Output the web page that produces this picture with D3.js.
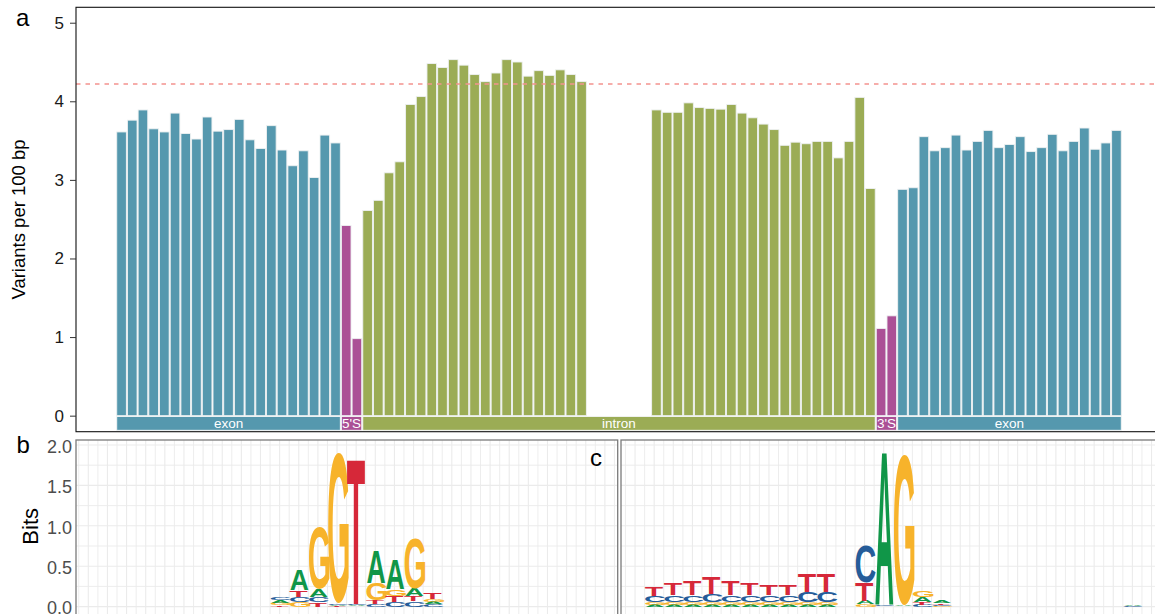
<!DOCTYPE html>
<html>
<head>
<meta charset="utf-8">
<script src="https://cdn.jsdelivr.net/npm/d3@7"></script>
<style>
  html, body { margin: 0; padding: 0; background: #fff; }
  svg { display: block; }
  text { font-family: "Liberation Sans", Arial, Helvetica, sans-serif; }
</style>
</head>
<body>
<svg id="fig" width="1155" height="614"></svg>
<script>
// ---- variant density (variants per 100 bp) along the exon / splice site / intron profile ----
const exonUpstream = [3.61, 3.76, 3.89, 3.65, 3.61, 3.85, 3.59, 3.52, 3.80, 3.62, 3.64, 3.77, 3.51, 3.40, 3.69, 3.38, 3.18, 3.37, 3.03, 3.57, 3.47];
const donorSite = [2.42, 0.98];
const intronDonorSide = [2.61, 2.74, 3.09, 3.23, 3.96, 4.06, 4.48, 4.43, 4.53, 4.46, 4.34, 4.25, 4.36, 4.53, 4.50, 4.32, 4.39, 4.33, 4.40, 4.34, 4.25];
const intronBreakLength = 6;
const intronAcceptorSide = [3.89, 3.86, 3.86, 3.98, 3.92, 3.91, 3.90, 3.96, 3.85, 3.79, 3.71, 3.64, 3.44, 3.48, 3.46, 3.49, 3.49, 3.28, 3.49, 4.05, 2.89];
const acceptorSite = [1.11, 1.27];
const exonDownstream = [2.88, 2.90, 3.55, 3.37, 3.41, 3.57, 3.38, 3.49, 3.63, 3.41, 3.45, 3.55, 3.36, 3.41, 3.58, 3.37, 3.49, 3.66, 3.39, 3.47, 3.63];
const genomeAverage = 4.22;
const densityTicks = [0, 1, 2, 3, 4, 5];
const regionNames = ["exon", "5'S", "intron", "3'S", "exon"];

// ---- sequence logos (bits per base, positions 1..28) ----
const logoBases = ["A", "C", "G", "T"];
const donorA = [0,0,0,0,0,0,0,0,0,0, 0.035, 0.27, 0.10, 0.015, 0.01, 0.41, 0.38, 0.09, 0.03, 0,0,0,0,0,0,0,0,0];
const donorC = [0,0,0,0,0,0,0,0,0,0, 0.04, 0.065, 0.07, 0.015, 0.015, 0.035, 0.06, 0.065, 0.028, 0,0,0,0,0,0,0,0,0];
const donorG = [0,0,0,0,0,0,0,0,0,0, 0.025, 0.06, 0.80, 1.93, 0.005, 0.215, 0.085, 0.64, 0.035, 0,0,0,0,0,0,0,0,0];
const donorT = [0,0,0,0,0,0,0,0,0,0, 0.02, 0.075, 0.05, 0.01, 1.86, 0.04, 0.075, 0.07, 0.075, 0,0,0,0,0,0,0,0,0];
const acceptorA = [0, 0.025, 0.025, 0.025, 0.025, 0.025, 0.025, 0.025, 0.025, 0.025, 0.025, 0, 0.04, 1.95, 0.01, 0.06, 0.025, 0,0,0,0,0,0,0,0,0, 0.01, 0];
const acceptorC = [0, 0.075, 0.085, 0.09, 0.105, 0.09, 0.085, 0.085, 0.085, 0.13, 0.13, 0, 0.48, 0.01, 0.005, 0.025, 0.015, 0,0,0,0,0,0,0,0,0, 0.008, 0];
const acceptorG = [0, 0.028, 0.028, 0.028, 0.028, 0.028, 0.028, 0.028, 0.028, 0.028, 0.028, 0, 0.03, 0.005, 1.94, 0.09, 0.01, 0,0,0,0,0,0,0,0,0, 0, 0];
const acceptorT = [0, 0.12, 0.15, 0.175, 0.21, 0.175, 0.14, 0.13, 0.13, 0.225, 0.225, 0, 0.23, 0.005, 0.005, 0.035, 0.02, 0,0,0,0,0,0,0,0,0, 0, 0];
const bitTicks = [0, 0.5, 1.0, 1.5, 2.0];

const regionColor = { exon: "#5598AE", "5'S": "#AB5096", intron: "#9BAC55", "3'S": "#AB5096" };
const baseColor = { A: "#109648", C: "#255C99", G: "#F7B32B", T: "#D62839" };

const svg = d3.select("#fig");

// ================= panel a: bar profile =================
const segments = [
  { name: regionNames[0], values: exonUpstream },
  { name: regionNames[1], values: donorSite },
  { name: regionNames[2], values: intronDonorSide.concat(new Array(intronBreakLength).fill(null), intronAcceptorSide) },
  { name: regionNames[3], values: acceptorSite },
  { name: regionNames[4], values: exonDownstream }
];
const bars = [];
const spans = [];
segments.forEach(seg => {
  const start = bars.length;
  seg.values.forEach(v => bars.push({ idx: bars.length, region: seg.name, value: v }));
  spans.push({ name: seg.name, first: start, last: bars.length - 1 });
});

const aLeft = 76, aRight = 1162, aTop = 7.3, aBottom = 431.7;
const x = d3.scaleBand().domain(bars.map(d => d.idx)).range([116.2, 1121.8]).paddingInner(0.1).paddingOuter(0.05);
const y = d3.scaleLinear().domain([-0.204, 5.196]).range([aBottom, aTop]);

const gA = svg.append("g");
gA.append("rect").attr("x", aLeft).attr("y", aTop).attr("width", aRight - aLeft).attr("height", aBottom - aTop)
  .attr("fill", "#fff");

gA.selectAll("rect.bar").data(bars.filter(d => d.value !== null)).join("rect")
  .attr("class", "bar")
  .attr("x", d => x(d.idx))
  .attr("width", x.bandwidth())
  .attr("y", d => y(d.value))
  .attr("height", d => y(0) - y(d.value))
  .attr("fill", d => regionColor[d.region])
  .attr("stroke", "#eef1f2").attr("stroke-width", 0.9);

// region strip under the bars
const stripTop = -0.01, stripBottom = -0.186;
const strip = gA.selectAll("g.strip").data(spans).join("g").attr("class", "strip");
strip.append("rect")
  .attr("x", d => x(d.first))
  .attr("width", d => x(d.last) + x.bandwidth() - x(d.first))
  .attr("y", y(stripTop))
  .attr("height", y(stripBottom) - y(stripTop))
  .attr("fill", d => regionColor[d.name])
  .attr("stroke", "#f4f6f6").attr("stroke-width", 0.9);
strip.append("text")
  .attr("x", d => (x(d.first) + x(d.last) + x.bandwidth()) / 2)
  .attr("y", (y(stripTop) + y(stripBottom)) / 2 + 4.8)
  .attr("text-anchor", "middle")
  .attr("fill", "#fff")
  .attr("font-size", 13.5)
  .text(d => d.name);

// genome-wide average
gA.append("line")
  .attr("x1", aLeft).attr("x2", aRight)
  .attr("y1", y(genomeAverage)).attr("y2", y(genomeAverage))
  .attr("stroke", "#F4938F").attr("stroke-width", 1.4).attr("stroke-dasharray", "4.5,5");

gA.append("rect").attr("x", aLeft).attr("y", aTop).attr("width", aRight - aLeft).attr("height", aBottom - aTop)
  .attr("fill", "none").attr("stroke", "#111").attr("stroke-width", 1.1);

const yAxis = gA.append("g").attr("transform", `translate(${aLeft},0)`)
  .call(d3.axisLeft(y).tickValues(densityTicks).tickFormat(d3.format("d")).tickSize(6).tickPadding(6));
yAxis.select(".domain").remove();
yAxis.selectAll(".tick line").attr("stroke", "#333");
yAxis.selectAll(".tick text").attr("fill", "#1a1a1a").attr("font-size", 17)
  .attr("font-family", "'Liberation Sans', Arial, sans-serif");

gA.append("text")
  .attr("transform", `translate(25,${(aTop + aBottom) / 2}) rotate(-90)`)
  .attr("text-anchor", "middle").attr("font-size", 18.5).attr("fill", "#000")
  .text("Variants per 100 bp");

// ================= panels b, c: sequence logos =================
const measureCtx = document.createElement("canvas").getContext("2d");
const LOGO_FONT_FAMILY = "Roboto, 'Liberation Sans', Arial, sans-serif";
const LOGO_FONT_WEIGHT = 700;
measureCtx.font = `${LOGO_FONT_WEIGHT} 100px ${LOGO_FONT_FAMILY}`;
const glyphCache = {};
function glyphBox(ch) {
  if (!glyphCache[ch]) {
    const m = measureCtx.measureText(ch);
    glyphCache[ch] = { l: m.actualBoundingBoxLeft, r: m.actualBoundingBoxRight, a: m.actualBoundingBoxAscent, d: m.actualBoundingBoxDescent };
  }
  return glyphCache[ch];
}

const bitsScale = d3.scaleLinear().domain([0, 2]).range([606.6, 445]);
const logoTop = 440, logoBottom = 618;

function drawLogo(opts) {
  const { left, right, posDomain, columns, showAxis, id } = opts;
  const xs = d3.scaleLinear().domain(posDomain).range([left, right]);
  const unit = xs(1) - xs(0);
  const g = svg.append("g");
  g.append("clipPath").attr("id", id).append("rect")
    .attr("x", left).attr("y", logoTop).attr("width", right - left).attr("height", logoBottom - logoTop);
  const grid = g.append("g").attr("clip-path", `url(#${id})`);
  grid.append("rect").attr("x", left).attr("y", logoTop).attr("width", right - left).attr("height", logoBottom - logoTop).attr("fill", "#fff");

  // vertical grid: each position plus the midpoints between them
  const vLines = d3.range(Math.ceil(posDomain[0] * 2) / 2, posDomain[1], 0.5);
  grid.selectAll("line.v").data(vLines).join("line").attr("class", "v")
    .attr("x1", d => xs(d)).attr("x2", d => xs(d)).attr("y1", logoTop).attr("y2", logoBottom)
    .attr("stroke", "#ebebeb").attr("stroke-width", d => Number.isInteger(d) ? 1.1 : 0.9);
  const hLines = d3.range(-0.25, 2.01, 0.25);
  grid.selectAll("line.h").data(hLines).join("line").attr("class", "h")
    .attr("x1", left).attr("x2", right).attr("y1", d => bitsScale(d)).attr("y2", d => bitsScale(d))
    .attr("stroke", "#ebebeb").attr("stroke-width", d => (Math.abs(d * 2 - Math.round(d * 2)) < 1e-6) ? 1.1 : 0.9);

  // stacked letters, smallest at the bottom
  const letterWidth = unit * 0.93;
  const letters = [];
  columns.forEach(col => {
    let base = 0;
    col.heights.slice().sort((p, q) => p.h - q.h).forEach(item => {
      if (item.h > 0.004) letters.push({ pos: col.pos, ch: item.base, y0: base, y1: base + item.h });
      base += item.h;
    });
  });
  grid.selectAll("text.letter").data(letters).join("text").attr("class", "letter")
    .attr("font-family", LOGO_FONT_FAMILY).attr("font-weight", LOGO_FONT_WEIGHT).attr("font-size", 100)
    .attr("fill", d => baseColor[d.ch])
    .attr("transform", d => {
      const b = glyphBox(d.ch);
      const x0 = xs(d.pos) - letterWidth / 2;
      const yTop = bitsScale(d.y1);
      const h = bitsScale(d.y0) - yTop;
      const sx = letterWidth / (b.l + b.r);
      const sy = h / (b.a + b.d);
      return `translate(${x0 + b.l * sx},${yTop + b.a * sy}) scale(${sx},${sy})`;
    })
    .text(d => d.ch);

  g.append("rect").attr("x", left).attr("y", logoTop).attr("width", right - left).attr("height", logoBottom - logoTop)
    .attr("fill", "none").attr("stroke", "#7a7a7a").attr("stroke-width", 1.3);

  if (showAxis) {
    const ax = g.append("g").attr("transform", `translate(${left},0)`)
      .call(d3.axisLeft(bitsScale).tickValues(bitTicks).tickFormat(d3.format(".1f")).tickSize(0).tickPadding(4));
    ax.select(".domain").remove();
    ax.selectAll(".tick text").attr("fill", "#4d4d4d").attr("font-size", 18).attr("dy", "0.4em")
      .attr("font-family", "'Liberation Sans', Arial, sans-serif");
    g.append("text")
      .attr("transform", `translate(38,${bitsScale(1) + 0.5}) rotate(-90)`)
      .attr("text-anchor", "middle").attr("font-size", 22).attr("fill", "#000")
      .text("Bits");
  }
}

function columnsFrom(a, c, gg, t) {
  return a.map((_, i) => ({
    pos: i + 1,
    heights: [ { base: "A", h: a[i] }, { base: "C", h: c[i] }, { base: "G", h: gg[i] }, { base: "T", h: t[i] } ]
  }));
}

drawLogo({ id: "clipDonor", left: 76, right: 617.7, posDomain: [0.357, 28.67],
  columns: columnsFrom(donorA, donorC, donorG, donorT), showAxis: true });
drawLogo({ id: "clipAcceptor", left: 621, right: 1163, posDomain: [0.266, 28.6],
  columns: columnsFrom(acceptorA, acceptorC, acceptorG, acceptorT), showAxis: false });

// panel tags
const tags = [ { t: "a", x: 16, y: 26 }, { t: "b", x: 16.5, y: 452.5 }, { t: "c", x: 590, y: 466 } ];
svg.selectAll("text.tag").data(tags).join("text").attr("class", "tag")
  .attr("x", d => d.x).attr("y", d => d.y).attr("font-size", 24).attr("fill", "#000").text(d => d.t);
</script>
</body>
</html>
